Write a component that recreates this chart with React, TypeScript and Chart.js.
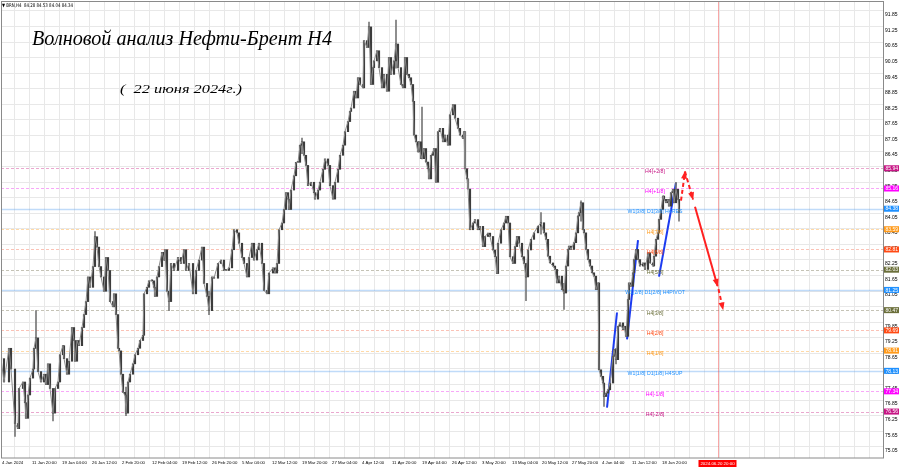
import React, { useEffect, useRef } from "react";
import { Chart, registerables } from "chart.js";

Chart.register(...registerables);

// ---------- text ----------
const headerText = "▼ BRN,H4  84.28 84.53 84.04 84.34";
const titleText = "Волновой анализ Нефти-Брент H4";
const subtitleText = "(  22 июня 2024г.)";

// ---------- time axis ----------
const dateLabels = [
  "4 Jan 2024", "11 Jan 20:00", "19 Jan 04:00", "26 Jan 12:00", "2 Feb 20:00",
  "12 Feb 04:00", "19 Feb 12:00", "26 Feb 20:00", "5 Mar 04:00", "12 Mar 12:00",
  "19 Mar 20:00", "27 Mar 04:00", "4 Apr 12:00", "11 Apr 20:00", "19 Apr 04:00",
  "26 Apr 12:00", "3 May 20:00", "13 May 04:00", "20 May 12:00", "27 May 20:00",
  "4 Jun 04:00", "11 Jun 12:00", "18 Jun 20:00",
];
const barsPerDateLabel = 30;
const barsPerGridLine = 15;
const totalBars = 882;
const markerBar = 716.5;
const markerLabel = "2024.06.20 20:00";

// ---------- price axis ----------
const priceTickFirst = 75.05;
const priceTickStep = 0.6;
const priceTickCount = 29;
const priceMin = 74.77;
const priceMax = 92.35;

// ---------- price series (bar index, close) ----------
const barIdx = [
  0, 3, 8, 10, 14, 17, 18, 22, 24, 25, 27, 29, 32, 33, 35, 37, 40, 43, 45, 47, 49, 52, 54, 57, 59, 62, 63, 66, 68, 71,
  73, 74, 76, 78, 81, 83, 85, 87, 89, 92, 94, 96, 98, 100, 103, 105, 107, 109, 112, 113, 115, 117, 118, 120, 122, 124, 125, 127, 129, 132,
  134, 137, 139, 142, 143, 146, 148, 151, 153, 154, 156, 158, 161, 163, 164, 166, 168,
  170, 173, 177, 180, 183, 185, 188, 192, 195, 198, 201, 203, 206, 208, 211, 213, 217, 220, 223, 225, 228, 231, 233, 236, 238, 241, 243, 246, 248, 251,
  253, 256, 258, 261, 263, 266, 268, 272, 274, 276, 278, 281, 283, 285, 287, 288, 290, 293, 295, 297, 299, 301, 303, 305, 307, 310, 313, 314, 317, 319,
  322, 324, 327, 329, 332, 334, 337, 339, 342, 344, 347, 349,
  350, 353, 355, 357, 359, 362, 363, 366, 368, 370, 372, 373, 376, 378, 381, 383, 386, 388, 390, 393, 395, 397, 400, 402, 404, 406, 408, 410, 412, 413,
  415, 417, 418, 420, 423, 425, 427, 428, 430, 432, 433, 435, 437, 439, 442, 444, 447, 449, 452, 454, 457, 459, 462, 463, 464, 466, 467, 469, 472, 474,
  477, 479, 482, 484, 487, 489, 492, 494, 496, 497, 500, 503, 505, 507, 509, 512, 514, 516, 518, 521, 523, 525, 527,
  530, 533, 537, 540, 543, 545, 547, 549, 552, 554, 556, 558, 561, 563, 565, 567, 568, 570, 573, 575, 577, 578, 580, 582, 583, 585, 587, 589, 591, 593,
  595, 597, 598, 600, 602, 603, 605, 607, 609, 612, 613, 615, 617, 619, 622, 623, 625, 627, 628, 630, 632, 633, 635, 637, 639, 642, 644, 647, 649, 652,
  653, 655, 657, 658, 660, 662, 663, 665, 667, 668, 670, 672, 673, 675, 677, 678,
];
const closes = [
  78.6, 77.7, 79.0, 78.2, 76.1, 75.9, 77.45, 77.7, 76.9, 76.3, 77.2, 77.85, 78.2, 79.0, 79.4, 78.1, 77.7, 78.0, 77.6, 78.4, 77.45, 76.5, 77.45, 77.7, 78.75, 79.1, 78.6, 78.0, 78.5, 79.8,
  79.3, 78.5, 79.3, 79.1, 79.8, 80.3, 80.8, 81.75, 81.35, 82.15, 83.3, 82.9, 82.15, 81.75, 81.2, 82.5, 82.0, 80.8, 80.6, 81.1, 80.3, 79.0, 78.9, 78.0, 77.3, 77.2, 76.5, 77.7, 78.0, 78.4,
  78.75, 79.0, 79.3, 79.5, 81.1, 81.35, 81.6, 81.6, 81.35, 81.0, 81.75, 82.15, 82.7, 82.4, 82.8, 81.2, 80.8,
  82.27, 82.0, 82.5, 82.27, 82.8, 82.0, 82.27, 81.1, 82.0, 82.4, 82.9, 81.5, 81.0, 80.45, 81.75, 81.7, 82.27, 82.4, 82.0, 82.0, 82.1, 82.8, 83.57, 83.45, 83.05, 82.5, 82.27, 81.75, 82.5, 83.05,
  82.4, 82.8, 83.05, 82.27, 81.23, 81.1, 81.9, 82.1, 81.9, 82.27, 83.57, 83.83, 84.35, 85.0, 84.75, 84.35, 85.1, 85.65, 86.17, 86.17, 86.83, 86.96, 86.44, 86.05, 85.27, 85.4, 85.0, 84.75, 85.1, 85.4,
  85.9, 86.3, 86.05, 85.27, 84.75, 85.4, 85.9, 86.44, 86.83, 87.35, 87.74, 88.13,
  88.26, 88.91, 88.65, 89.43, 89.17, 89.04, 90.86, 90.6, 91.39, 89.17, 89.82, 90.08, 90.47, 89.82, 89.04, 89.56, 88.91, 90.21, 89.56, 90.08, 90.73, 89.82, 89.17, 89.04, 90.21, 89.56, 89.43, 89.17, 88.52, 87.22,
  86.96, 86.57, 86.96, 86.31, 86.7, 86.18, 85.92, 85.53, 86.44, 86.57, 86.7, 85.4, 87.35, 87.48, 86.96, 87.22, 86.83, 88.0, 88.39, 87.87, 87.48, 87.22, 87.09, 87.35, 85.92, 85.53, 85.14, 83.57, 83.83, 83.96,
  83.57, 83.7, 82.92, 83.31, 83.44, 83.31, 82.79, 82.53, 81.88, 83.05, 83.57, 83.83, 84.09, 83.83, 82.53, 82.27, 82.92, 83.31, 83.05, 82.53, 82.27, 81.75, 82.79,
  83.2, 83.45, 83.71, 83.84, 83.45, 83.2, 82.55, 82.29, 82.17, 82.04, 81.52, 81.78, 81.26, 81.13, 82.17, 82.81, 82.94, 82.81, 83.07, 83.45, 84.1, 84.23, 84.61, 83.58, 83.45, 82.81, 82.42, 82.17, 81.91, 81.78,
  81.26, 81.52, 78.17, 77.92, 77.66, 77.14, 77.27, 77.4, 77.66, 78.69, 78.95, 78.56, 79.85, 79.98, 79.72, 79.85, 79.46, 80.88, 81.52, 81.39, 81.91, 82.42, 82.81, 82.42, 82.17, 82.29, 82.04, 82.68, 82.29, 82.17,
  82.55, 83.2, 83.45, 83.97, 84.35, 84.87, 84.74, 84.61, 84.74, 84.48, 85.0, 85.13, 84.61, 85.13, 84.74, 84.23,
];

// ---------- notable wicks ----------
const wickIdx = [14, 35, 52, 94, 125, 168, 208, 301, 368, 395, 421, 525, 540, 563, 580, 603, 615, 675, 678];
const wickLow = [75.6, 79.0, 76.2, 82.9, 76.4, 80.45, 80.3, 86.5, 90.6, 89.8, 86.3, 80.84, 83.4, 80.5, 83.9, 76.76, 78.4, 84.7, 83.9];
const wickHigh = [76.6, 80.45, 77.0, 83.5, 77.5, 81.2, 81.2, 87.1, 91.58, 91.65, 88.3, 82.0, 84.23, 81.5, 84.68, 77.5, 79.0, 85.4, 84.6];

// ---------- Murrey levels ----------
const levelPrices = [85.94, 85.16, 84.38, 83.59, 82.81, 82.03, 81.25, 80.47, 79.69, 78.91, 78.13, 77.34, 76.56];
const levelNames = [
  "H4[+2/8]", "H4[+1/8]", "W1[3/8] D1[3/8] H4RES", "H4[7/8]", "H4[6/8]", "H4[5/8]",
  "W1[2/8] D1[2/8] H4PIVOT", "H4[3/8]", "H4[2/8]", "H4[1/8]", "W1[1/8] D1[1/8] H4SUP", "H4[-1/8]", "H4[-2/8]",
];
const levelColors = [
  "#c71585", "#ff00ff", "#1e90ff", "#ff9a1a", "#ff4a14", "#6b6f3a", "#1e90ff",
  "#6b6f3a", "#ff4a14", "#ff9a1a", "#1e90ff", "#ff00ff", "#c71585",
];
const levelLineColors = [
  "rgba(214,80,160,0.5)", "rgba(240,60,240,0.45)", "rgba(90,160,240,0.38)", "rgba(255,170,60,0.45)",
  "rgba(245,110,80,0.42)", "rgba(140,135,110,0.5)", "rgba(90,160,240,0.38)", "rgba(140,135,110,0.5)",
  "rgba(245,110,80,0.42)", "rgba(255,170,60,0.45)", "rgba(90,160,240,0.38)", "rgba(240,60,240,0.45)", "rgba(214,80,160,0.5)",
];
const levelDashed = [true, true, false, true, true, true, false, true, true, true, false, true, true];
const levelLabelBar = 654;

// ---------- wave markup ----------
const waveStartBar = [606, 626, 658];
const waveStartPrice = [76.71, 79.34, 81.76];
const waveEndBar = [616, 637, 675];
const waveEndPrice = [80.38, 83.17, 85.38];

const forecastFromBar = [680, 684, 694, 717.5];
const forecastFromPrice = [84.69, 85.81, 84.46, 81.28];
const forecastToBar = [684, 692, 716.5, 722];
const forecastToPrice = [85.81, 84.74, 81.4, 80.5];
const forecastDashed = [true, true, false, true];

const gridLabelGap = 4.5;

export default function App() {
  const ref = useRef<HTMLCanvasElement | null>(null);

  useEffect(() => {
    document.body.style.margin = "0";
    const canvas = ref.current;
    if (!canvas) return;

    const forecastStartIndex = 3 + waveStartBar.length;

    const overlay = {
      id: "overlay",
      beforeDatasetsDraw(chart: any) {
        const { ctx, chartArea: a, scales } = chart;
        const x = scales.x, y = scales.y;
        ctx.save();
        // grid
        ctx.strokeStyle = "#e8e8e8";
        ctx.lineWidth = 1;
        ctx.beginPath();
        for (let b = 0; b <= totalBars; b += barsPerGridLine) {
          const px = Math.round(x.getPixelForValue(b)) - 1.5;
          if (px < a.left) continue;
          ctx.moveTo(px, a.top);
          ctx.lineTo(px, a.bottom);
        }
        for (let i = 0; i < priceTickCount; i++) {
          const py = Math.round(y.getPixelForValue(priceTickFirst + i * priceTickStep) - gridLabelGap) + 0.5;
          if (py < a.top || py > a.bottom) continue;
          ctx.moveTo(a.left, py);
          ctx.lineTo(a.right, py);
        }
        ctx.stroke();
        // levels
        levelPrices.forEach((p, i) => {
          const py = Math.round(y.getPixelForValue(p)) + 0.5;
          ctx.strokeStyle = levelLineColors[i];
          ctx.lineWidth = levelDashed[i] ? 1 : 1.5;
          ctx.setLineDash(levelDashed[i] ? [3, 2] : []);
          ctx.beginPath();
          ctx.moveTo(a.left, py);
          ctx.lineTo(a.right, py);
          ctx.stroke();
        });
        ctx.setLineDash([]);
        // marker vertical line
        const mx = Math.round(x.getPixelForValue(markerBar)) + 0.5;
        ctx.strokeStyle = "rgba(240,60,60,0.45)";
        ctx.lineWidth = 1;
        ctx.beginPath();
        ctx.moveTo(mx, a.top);
        ctx.lineTo(mx, a.bottom);
        ctx.stroke();
        ctx.restore();
      },
      afterDatasetsDraw(chart: any) {
        const { ctx, chartArea: a, scales } = chart;
        const x = scales.x, y = scales.y;
        ctx.save();
        // arrowheads
        forecastToBar.forEach((_, i) => {
          const meta = chart.getDatasetMeta(forecastStartIndex + i);
          const p1 = meta.data[0], p2 = meta.data[1];
          const ang = Math.atan2(p2.y - p1.y, p2.x - p1.x);
          const L = 7, W = 3;
          ctx.fillStyle = "#ff2020";
          ctx.beginPath();
          ctx.moveTo(p2.x + Math.cos(ang) * 1, p2.y + Math.sin(ang) * 1);
          ctx.lineTo(p2.x - Math.cos(ang) * L - Math.sin(ang) * W, p2.y - Math.sin(ang) * L + Math.cos(ang) * W);
          ctx.lineTo(p2.x - Math.cos(ang) * L + Math.sin(ang) * W, p2.y - Math.sin(ang) * L - Math.cos(ang) * W);
          ctx.closePath();
          ctx.fill();
        });
        // level labels in plot
        ctx.font = "5.2px 'Liberation Sans'";
        ctx.textAlign = "center";
        ctx.textBaseline = "middle";
        const lx = x.getPixelForValue(levelLabelBar);
        levelPrices.forEach((p, i) => {
          ctx.fillStyle = levelColors[i];
          ctx.fillText(levelNames[i], lx, y.getPixelForValue(p) + 3);
        });
        // frame
        ctx.strokeStyle = "#8a8a8a";
        ctx.lineWidth = 1;
        ctx.strokeRect(a.left + 0.5, a.top - 0.5, a.right - a.left, a.bottom - a.top + 0.5);
        ctx.restore();
      },
      afterDraw(chart: any) {
        const { ctx, chartArea: a, scales } = chart;
        const x = scales.x, y = scales.y;
        ctx.save();
        // axis level boxes
        ctx.font = "5px 'Liberation Sans'";
        ctx.textAlign = "left";
        ctx.textBaseline = "middle";
        levelPrices.forEach((p, i) => {
          const py = y.getPixelForValue(p);
          ctx.fillStyle = levelColors[i];
          ctx.fillRect(a.right + 1, py - 3, 15, 6);
          ctx.fillStyle = "#ffffff";
          ctx.fillText(p.toFixed(2), a.right + 2.5, py + 0.3);
        });
        // marker date box
        const mx = x.getPixelForValue(markerBar);
        ctx.fillStyle = "#ff0000";
        ctx.fillRect(mx - 19, a.bottom + 2, 38, 7);
        ctx.fillStyle = "#ffffff";
        ctx.font = "4.4px 'Liberation Sans'";
        ctx.textAlign = "center";
        ctx.fillText(markerLabel, mx, a.bottom + 5.6);
        // header
        ctx.fillStyle = "#000";
        ctx.textAlign = "left";
        ctx.textBaseline = "alphabetic";
        ctx.font = "5px 'DejaVu Sans'";
        let w = ctx.measureText(headerText).width;
        ctx.save();
        ctx.translate(2, 6.6);
        ctx.scale(71 / w, 1);
        ctx.fillText(headerText, 0, 0);
        ctx.restore();
        // title
        ctx.font = "italic 20px 'Liberation Serif'";
        w = ctx.measureText(titleText).width;
        ctx.save();
        ctx.translate(32, 45);
        ctx.scale(300 / w, 1);
        ctx.fillText(titleText, 0, 0);
        ctx.restore();
        // subtitle
        ctx.font = "italic 13px 'Liberation Serif'";
        w = ctx.measureText(subtitleText).width;
        ctx.save();
        ctx.translate(120, 93);
        ctx.scale(122 / w, 1);
        ctx.fillText(subtitleText, 0, 0);
        ctx.restore();
        ctx.restore();
      },
    };

    const datasets: any[] = [
      {
        type: "line",
        data: barIdx.map((b, i) => ({ x: b, y: closes[i] })),
        borderColor: "#8a8a8a",
        borderWidth: 1,
        pointRadius: 0,
        tension: 0,
      },
      {
        type: "bar",
        data: barIdx.map((b, i) => ({ x: b, y: [i > 0 ? closes[i - 1] : closes[i], closes[i]] })),
        backgroundColor: "#3c3c3c",
        barThickness: 1.5,
        grouped: false,
        minBarLength: 1,
      },
      {
        type: "bar",
        data: wickIdx.map((b, i) => ({ x: b, y: [wickLow[i], wickHigh[i]] })),
        backgroundColor: "#777777",
        barThickness: 1,
        grouped: false,
      },
    ];
    waveStartBar.forEach((b, i) => {
      datasets.push({
        type: "line",
        data: [
          { x: b, y: waveStartPrice[i] },
          { x: waveEndBar[i], y: waveEndPrice[i] },
        ],
        borderColor: "#1d3cf0",
        borderWidth: 2,
        pointRadius: 0,
      });
    });
    forecastFromBar.forEach((b, i) => {
      datasets.push({
        type: "line",
        data: [
          { x: b, y: forecastFromPrice[i] },
          { x: forecastToBar[i], y: forecastToPrice[i] },
        ],
        borderColor: "#ff2020",
        borderWidth: 2,
        borderDash: forecastDashed[i] ? [4, 3] : [],
        pointRadius: 0,
      });
    });

    const chart = new Chart(canvas, {
      type: "bar",
      data: { datasets },
      options: {
        responsive: false,
        maintainAspectRatio: false,
        animation: false,
        layout: { padding: { top: 2, left: 1, right: 0, bottom: 0 } },
        plugins: { legend: { display: false }, tooltip: { enabled: false } },
        scales: {
          x: {
            type: "linear",
            min: 0,
            max: totalBars,
            offset: false,
            grid: { display: false, drawTicks: false },
            border: { display: false },
            afterBuildTicks: (s: any) => {
              s.ticks = dateLabels.map((_, i) => ({ value: i * barsPerDateLabel }));
            },
            afterFit: (s: any) => {
              s.height = 10;
              s.paddingLeft = 0;
              s.paddingRight = 0;
              s.paddingTop = 0;
              s.paddingBottom = 0;
            },
            ticks: {
              autoSkip: false,
              maxRotation: 0,
              minRotation: 0,
              align: "start",
              labelOffset: 1,
              padding: 2,
              color: "#000",
              font: { size: 4.3, family: "'Liberation Sans'" },
              callback: (v: any) => dateLabels[Math.round(Number(v) / barsPerDateLabel)] ?? "",
            },
          },
          y: {
            type: "linear",
            position: "right",
            min: priceMin,
            max: priceMax,
            grid: { display: false, drawTicks: false },
            border: { display: false },
            afterBuildTicks: (s: any) => {
              s.ticks = Array.from({ length: priceTickCount }, (_, i) => ({ value: priceTickFirst + i * priceTickStep }));
            },
            afterFit: (s: any) => {
              s.width = 17;
              s.paddingTop = 0;
              s.paddingBottom = 0;
              s.paddingLeft = 0;
              s.paddingRight = 0;
            },
            ticks: {
              padding: 2,
              color: "#000",
              font: { size: 5, family: "'Liberation Sans'" },
              callback: (v: any) => Number(v).toFixed(2),
            },
          },
        },
      } as any,
      plugins: [overlay],
    });

    return () => chart.destroy();
  }, []);

  return (
    <div style={{ position: "absolute", left: 0, top: 0, width: 900, height: 468, background: "#fff" }}>
      <canvas ref={ref} width={900} height={468} style={{ display: "block", width: 900, height: 468 }} />
    </div>
  );
}
